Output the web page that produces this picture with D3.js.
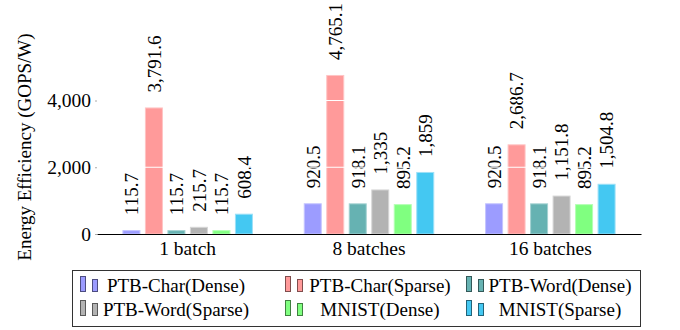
<!DOCTYPE html>
<html>
<head>
<meta charset="utf-8">
<script src="https://cdn.jsdelivr.net/npm/d3@7"></script>
<style>
  html, body { margin: 0; padding: 0; background: #fff; }
  svg { display: block; }
  svg text { font-family: "Liberation Serif", "Times New Roman", Times, "DejaVu Serif", serif !important; }
</style>
</head>
<body>
<svg id="chart" width="680" height="330"></svg>
<script>
// Batch sizes along the x axis
const batches = ["1 batch", "8 batches", "16 batches"];

// Workload names (legend order)
const seriesNames = [
  "PTB-Char(Dense)", "PTB-Char(Sparse)", "PTB-Word(Dense)",
  "PTB-Word(Sparse)", "MNIST(Dense)", "MNIST(Sparse)"
];

// Energy efficiency (GOPS/W) per workload, one value per batch size
const ptbCharDense  = [115.7, 920.5, 920.5];
const ptbCharSparse = [3791.6, 4765.1, 2686.7];
const ptbWordDense  = [115.7, 918.1, 918.1];
const ptbWordSparse = [215.7, 1335, 1151.8];
const mnistDense    = [115.7, 895.2, 895.2];
const mnistSparse   = [608.4, 1859, 1504.8];

const yTicks = [0, 2000, 4000];

const seriesValues = [ptbCharDense, ptbCharSparse, ptbWordDense, ptbWordSparse, mnistDense, mnistSparse];
const fills   = ["#9c9cff", "#ff9a9a", "#66b2b2", "#b3b3b3", "#80ff80", "#44c8f2"];
const edges   = ["#c4c4ff", "#ffc4c4", "#a3d1d1", "#d6d6d6", "#b3ffb3", "#9ce0f7"];
const darks   = ["#4d4d80", "#804d4d", "#335959", "#595959", "#408040", "#226479"];

const svg = d3.select("#chart");

const plot = { left: 97, right: 641, bottom: 234 };
const pxPerUnit = 0.033375;

const y = d3.scaleLinear()
  .domain([0, 6000])
  .range([plot.bottom, plot.bottom - 6000 * pxPerUnit]);

const x0 = d3.scaleBand().domain(batches).range([plot.left, plot.right]).padding(0);
const clusterWidth = 130.5;
const x1 = d3.scaleBand().domain(d3.range(seriesNames.length))
  .range([0, clusterWidth]).paddingInner(0.2).paddingOuter(0);

const fmt = d3.format(",");

// Bars
const groups = svg.append("g").selectAll("g")
  .data(batches)
  .join("g")
  .attr("transform", b => `translate(${x0(b) + (x0.bandwidth() - clusterWidth) / 2},0)`);

const cells = groups.selectAll("g.cell")
  .data((b, bi) => seriesValues.map((vals, si) => ({ si, v: vals[bi] })))
  .join("g").attr("class", "cell");

cells.append("rect")
  .attr("x", d => x1(d.si) + 0.5)
  .attr("width", x1.bandwidth() - 1)
  .attr("y", d => y(d.v) + 0.5)
  .attr("height", d => Math.max(0, y(0) - y(d.v) - 0.5))
  .attr("fill", d => fills[d.si])
  .attr("stroke", d => edges[d.si])
  .attr("stroke-width", 1);

// White grid lines drawn over the bars
svg.append("g").selectAll("line")
  .data(yTicks.filter(t => t > 0))
  .join("line")
  .attr("x1", plot.left).attr("x2", plot.right)
  .attr("y1", d => y(d)).attr("y2", d => y(d))
  .attr("stroke", "#fff").attr("stroke-width", 1);

// Value labels above the bars
cells.append("text")
  .attr("transform", d => `translate(${x1(d.si) + x1.bandwidth() / 2},${y(d.v) - 15}) rotate(-90)`)
  .attr("dy", "0.36em")
  .attr("text-anchor", "start")
  .attr("font-size", 19)
  .attr("fill", "#000")
  .text(d => fmt(d.v));

// Y axis: tick labels and small tick marks, no domain line
const yAxis = d3.axisLeft(y).tickValues(yTicks).tickFormat(fmt).tickSize(2).tickPadding(4);
const yg = svg.append("g").attr("transform", `translate(${plot.left},0)`).call(yAxis);
yg.attr("font-family", null);
yg.select(".domain").remove();
yg.selectAll(".tick line").attr("stroke", "#aaa");
yg.selectAll(".tick text").attr("font-size", 19.5).attr("fill", "#000");

// X axis
const xAxis = d3.axisBottom(x0).tickSize(0).tickPadding(7);
const xg = svg.append("g").attr("transform", `translate(0,${plot.bottom})`).call(xAxis);
xg.attr("font-family", null);
xg.select(".domain").attr("stroke", "#000").attr("stroke-width", 1.2);
xg.selectAll(".tick text").attr("font-size", 19.5).attr("fill", "#000");

// Y axis title
svg.append("text")
  .attr("transform", "translate(24,147) rotate(-90)")
  .attr("text-anchor", "middle")
  .attr("dy", "0.35em")
  .attr("font-size", 19)
  .text("Energy Efficiency (GOPS/W)");

// Legend
const legend = svg.append("g");
legend.append("rect")
  .attr("x", 72.5).attr("y", 270.5)
  .attr("width", 568).attr("height", 56)
  .attr("fill", "#fff").attr("stroke", "#333").attr("stroke-width", 1);

const iconX = [80, 285, 466];
const textCX = [176, 380, 560];
const rowBase = [292, 316];

const items = legend.selectAll("g.item")
  .data(seriesNames.map((name, i) => ({ name, i, col: i % 3, row: Math.floor(i / 3) })))
  .join("g").attr("class", "item");

items.append("rect")
  .attr("x", d => iconX[d.col] + 0.5)
  .attr("y", d => rowBase[d.row] - 16 + 0.5)
  .attr("width", 5).attr("height", 15)
  .attr("fill", d => fills[d.i]).attr("stroke", d => darks[d.i]).attr("stroke-width", 1);

items.append("rect")
  .attr("x", d => iconX[d.col] + 12.5)
  .attr("y", d => rowBase[d.row] - 13 + 0.5)
  .attr("width", 5).attr("height", 12)
  .attr("fill", d => fills[d.i]).attr("stroke", d => darks[d.i]).attr("stroke-width", 1);

items.append("text")
  .attr("x", d => textCX[d.col])
  .attr("y", d => rowBase[d.row])
  .attr("text-anchor", "middle")
  .attr("font-size", 19)
  .text(d => d.name);
</script>
</body>
</html>
